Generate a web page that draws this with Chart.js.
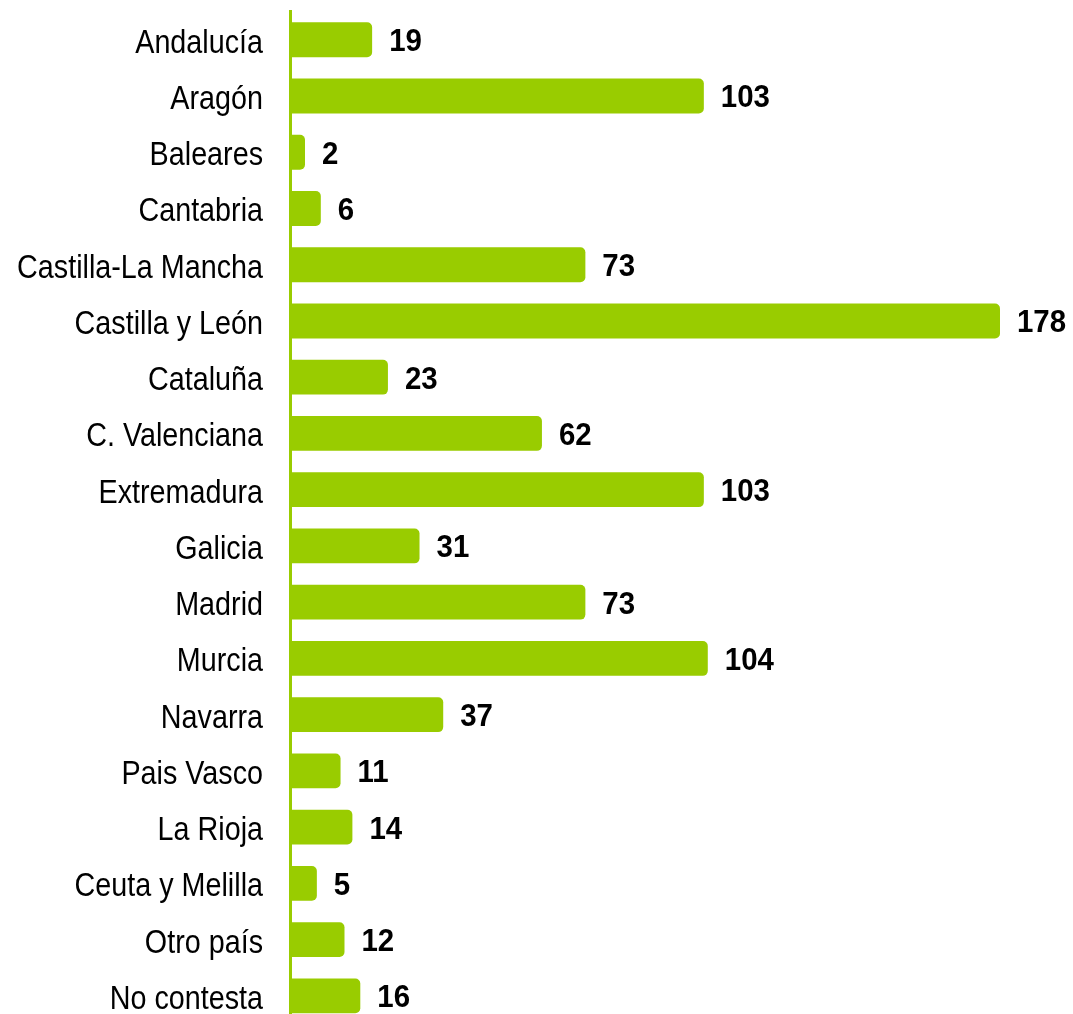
<!DOCTYPE html>
<html>
<head>
<meta charset="utf-8">
<script src="https://cdn.jsdelivr.net/npm/chart.js@4/dist/chart.umd.min.js"></script>
<style>
  html, body { margin: 0; padding: 0; background: #fff; overflow: hidden; }
  #wrap { width: 1073px; height: 1024px; }
</style>
</head>
<body>
<div id="wrap"><canvas id="chart" width="1073" height="1024"></canvas></div>
<script>
// Regions (rows top to bottom) and their counts
const regions = [
  'Andalucía', 'Aragón', 'Baleares', 'Cantabria', 'Castilla-La Mancha',
  'Castilla y León', 'Cataluña', 'C. Valenciana', 'Extremadura', 'Galicia',
  'Madrid', 'Murcia', 'Navarra', 'Pais Vasco', 'La Rioja',
  'Ceuta y Melilla', 'Otro país', 'No contesta'
];
const counts = [19, 103, 2, 6, 73, 178, 23, 62, 103, 31, 73, 104, 37, 11, 14, 5, 12, 16];

const GREEN = '#99cc00';
const SANS = '"Liberation Sans", Arial, sans-serif';

// Draws text squeezed horizontally to give a narrow face
function narrowText(ctx, text, x, y, font, squeeze, align) {
  ctx.save();
  ctx.translate(x, y);
  ctx.scale(squeeze, 1);
  ctx.font = font;
  ctx.textAlign = align;
  ctx.textBaseline = 'alphabetic';
  ctx.fillText(text, 0, 0);
  ctx.restore();
}

// Region names to the left of the axis
const regionLabels = {
  id: 'regionLabels',
  afterDraw(chart) {
    const ctx = chart.ctx;
    const yScale = chart.scales.y;
    ctx.save();
    ctx.fillStyle = '#000';
    chart.data.labels.forEach((label, i) => {
      const y = yScale.getPixelForValue(i);
      narrowText(ctx, label, yScale.right - 27, y + 13, '34px ' + SANS, 0.845, 'right');
    });
    ctx.restore();
  }
};

// Writes each bar's count just past its end
const valueLabels = {
  id: 'valueLabels',
  afterDatasetsDraw(chart) {
    const ctx = chart.ctx;
    const meta = chart.getDatasetMeta(0);
    ctx.save();
    ctx.fillStyle = '#000';
    meta.data.forEach((bar, i) => {
      narrowText(ctx, String(chart.data.datasets[0].data[i]), bar.x + 17, bar.y + 11.5,
        'bold 32px ' + SANS, 0.92, 'left');
    });
    ctx.restore();
  }
};

new Chart(document.getElementById('chart'), {
  type: 'bar',
  data: {
    labels: regions,
    datasets: [{
      data: counts,
      backgroundColor: GREEN,
      borderWidth: 0,
      borderRadius: 5,
      borderSkipped: 'start',
      base: -1.8,
      categoryPercentage: 1,
      barPercentage: 0.62
    }]
  },
  options: {
    indexAxis: 'y',
    responsive: false,
    devicePixelRatio: 1,
    animation: false,
    layout: { padding: { top: 11.6, right: 73, bottom: 0, left: 0 } },
    plugins: { legend: { display: false }, tooltip: { enabled: false } },
    scales: {
      x: {
        display: false,
        min: -1.8,
        max: 178
      },
      y: {
        grid: { display: false, drawTicks: false },
        border: { display: true, color: GREEN, width: 3 },
        ticks: { display: false },
        afterFit(scale) {
          scale.width = 290;
          scale.paddingTop = 0;
          scale.paddingBottom = 0;
        }
      }
    }
  },
  plugins: [valueLabels, regionLabels]
});
</script>
</body>
</html>
